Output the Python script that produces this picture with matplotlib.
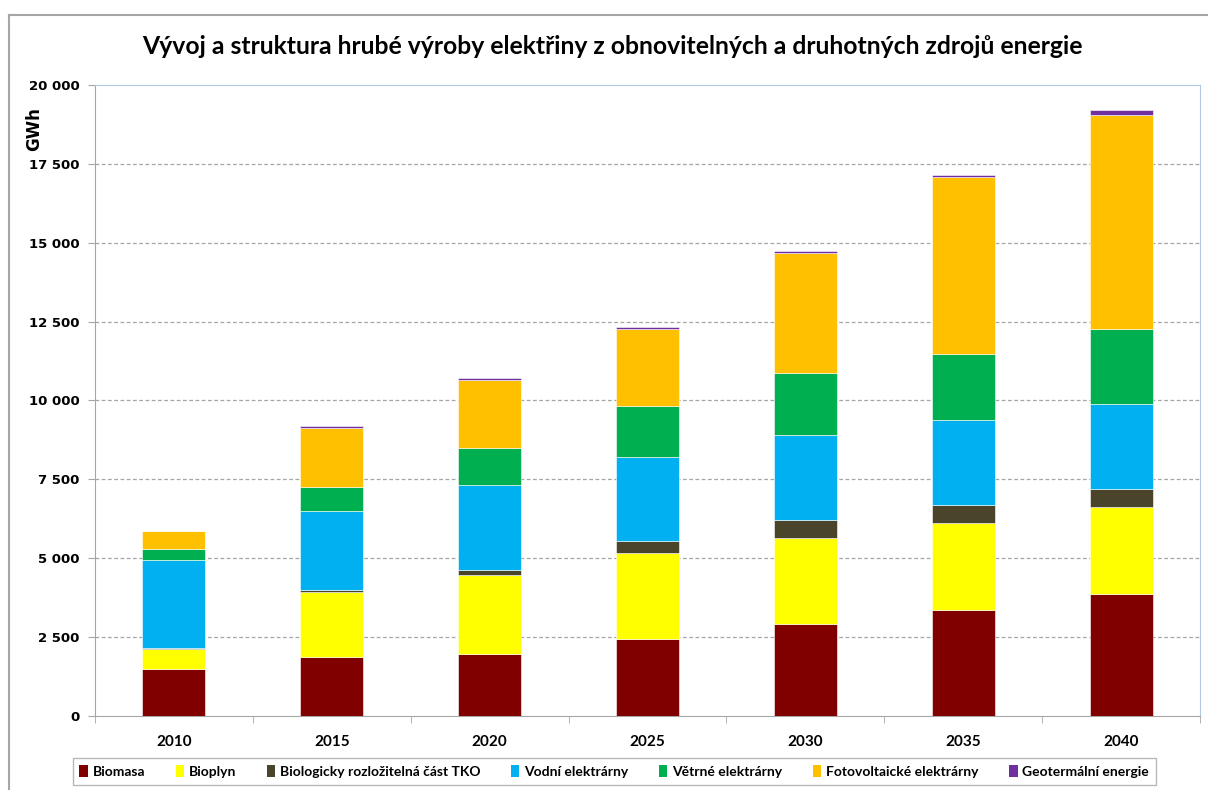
import numpy as np
import matplotlib
matplotlib.use("Agg")
import matplotlib.pyplot as plt
from matplotlib.lines import Line2D
from matplotlib.ticker import FuncFormatter

# Data (GWh)
roky = ["2010", "2015", "2020", "2025", "2030", "2035", "2040"]

biomasa = [1480, 1880, 1955, 2430, 2916, 3370, 3867]
bioplyn = [654, 2040, 2525, 2726, 2726, 2747, 2747]
tko = [16, 84, 148, 391, 560, 581, 581]
vodni = [2795, 2504, 2684, 2672, 2704, 2684, 2705]
vetrne = [348, 750, 1192, 1607, 1956, 2082, 2366]
fotovoltaicke = [571, 1880, 2156, 2430, 3803, 5610, 6783]
geotermalni = [0, 54, 53, 60, 84, 84, 159]

nazvy = ["Biomasa", "Bioplyn", "Biologicky rozložitelná část TKO",
         "Vodní elektrárny", "Větrné elektrárny",
         "Fotovoltaické elektrárny", "Geotermální energie"]
barvy = ["#800000", "#ffff00", "#4a452a", "#00b0f0", "#00b050",
         "#ffc000", "#7030a0"]

plt.rcParams['font.family'] = ['Lato', 'DejaVu Sans']

fig = plt.figure(figsize=(12.08, 7.9), dpi=100)
ax = fig.add_axes([0.0786, 0.0937, 0.9148, 0.7987])

# Vnější rámeček grafu
fig.add_artist(Line2D([9 / 1208, 9 / 1208], [0, 1 - 15 / 790],
                      transform=fig.transFigure, color="#a6a6a6", lw=1.5))
fig.add_artist(Line2D([9 / 1208, 1.0], [1 - 15 / 790, 1 - 15 / 790],
                      transform=fig.transFigure, color="#a6a6a6", lw=1.5))

x = np.arange(len(roky))
serie = [biomasa, bioplyn, tko, vodni, vetrne, fotovoltaicke, geotermalni]
spodek = np.zeros(len(roky))
for hodnoty, nazev, barva in zip(serie, nazvy, barvy):
    ax.bar(x, hodnoty, width=0.4, bottom=spodek, color=barva, label=nazev,
           edgecolor="white", linewidth=0.4, zorder=3)
    spodek += np.array(hodnoty)

ax.set_xlim(-0.5, len(roky) - 0.5)
ax.set_ylim(0, 20000)
ax.set_yticks(np.arange(0, 20001, 2500))
ax.yaxis.set_major_formatter(FuncFormatter(lambda v, p: f"{int(v):,}".replace(",", " ")))
ax.set_xticks(x)
ax.set_xticklabels(roky)
ax.set_xticks(np.arange(-0.5, len(roky)), minor=True)
ax.tick_params(axis="x", which="major", length=0, pad=14)
ax.tick_params(axis="x", which="minor", length=5, color="#a6a6a6")
ax.tick_params(axis="y", length=5, color="#a6a6a6", pad=6)
for lab in ax.get_xticklabels():
    lab.set_fontweight("bold")
    lab.set_fontsize(11)
for lab in ax.get_yticklabels():
    lab.set_fontweight("bold")
    lab.set_fontsize(9.5)
    lab.set_family("DejaVu Sans")

for v in np.arange(2500, 20000, 2500):
    ax.axhline(v, color="#a6a6a6", linestyle=(0, (3, 2)), linewidth=0.9, zorder=1)

for s in ["top", "right", "left"]:
    ax.spines[s].set_color("#b4c7e7")
ax.spines["left"].set_color("#a6a6a6")
ax.spines["bottom"].set_color("#a6a6a6")

ax.text(-0.055, 0.965, "GWh", transform=ax.transAxes, rotation=90,
        ha="center", va="top", fontsize=12, fontweight="bold",
        family="DejaVu Sans")

fig.text(0.507, 0.941, "Vývoj a struktura hrubé výroby elektřiny z obnovitelných a druhotných zdrojů energie",
         ha="center", va="center", fontsize=17.8, fontweight="bold")

leg = ax.legend(loc="upper center", bbox_to_anchor=(0.47, -0.056), ncol=7,
                frameon=True, fancybox=False, edgecolor="#a6a6a6",
                handlelength=0.6, handleheight=0.9, handletextpad=0.35,
                columnspacing=2.2, borderpad=0.5,
                prop={"weight": "bold", "size": 10})
leg.get_frame().set_linewidth(1.0)
for h in leg.legend_handles:
    h.set_edgecolor("none")

fig.savefig("out.png", dpi=100)
